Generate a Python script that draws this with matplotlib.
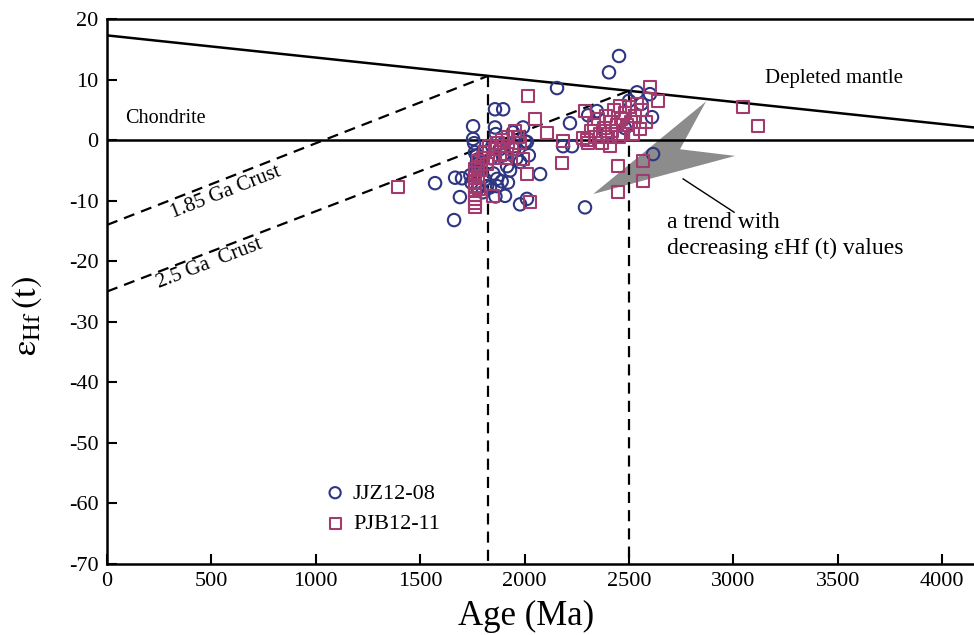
import numpy as np
import matplotlib
matplotlib.use("Agg")
import matplotlib.pyplot as plt
from matplotlib.patches import Polygon

plt.rcParams['font.family'] = ['Liberation Serif', 'DejaVu Serif']
plt.rcParams['mathtext.fontset'] = 'stix'
plt.rcParams['axes.unicode_minus'] = False

# JJZ12-08 (circles): age (Ma), eHf(t)
jjz_age = [1571, 1662, 1667, 1700, 1690, 1753, 1753, 1758, 1762, 1770, 1775, 1780, 1765, 1785,
           1772, 1790, 1800, 1820, 1834, 1810, 1858, 1897, 1858, 1862, 1868, 1868, 1880, 1895,
           1906, 1916, 1930, 1944, 1978, 1978, 1992, 2002, 2011, 2011, 2074, 2155, 2184, 2217,
           2227, 2289, 2304, 2346, 2404, 2452, 2538, 2600, 2610, 2615, 1840, 1845, 1850, 1890,
           1920, 1860, 1740, 1745, 1775, 1950, 1960, 2020, 2500, 2560, 2480, 2390]
jjz_ehf = [-7.1, -13.2, -6.2, -6.3, -9.4, 2.3, 0.2, -0.5, -2.0, -2.6, -3.2, -3.8, -4.5, -5.0,
           -3.5, -4.2, -8.6, -7.6, -7.8, -6.5, 5.1, 5.1, 2.1, 1.0, -6.4, -7.6, -1.5, -2.5,
           -9.2, -4.3, -5.0, 1.3, -3.6, -10.6, 2.1, -0.2, -0.3, -9.7, -5.6, 8.6, -1.0, 2.8,
           -1.0, -11.1, 4.1, 4.8, 11.2, 13.9, 7.9, 7.6, 3.8, -2.3, -3.0, -1.0, -5.5, -6.8,
           -7.0, -9.3, -5.8, -7.0, -8.0, -1.5, -3.0, -2.5, 6.5, 6.0, 2.0, 1.0]

# PJB12-11 (squares): age (Ma), eHf(t)
pjb_age = [1394, 1762, 1762, 1762, 1762, 1762, 1762, 1762, 1762, 1762, 1762, 1775, 1775, 1775,
           1780, 1790, 1800, 1810, 1820, 1830, 1849, 1850, 1860, 1870, 1880, 1890, 1900, 1910,
           1916, 1920, 1940, 1954, 1970, 1980, 1992, 2011, 2016, 2026, 2050, 2107, 2179, 2184,
           2280, 2289, 2299, 2304, 2320, 2330, 2340, 2350, 2360, 2370, 2380, 2390, 2400, 2409,
           2415, 2420, 2430, 2440, 2447, 2447, 2450, 2457, 2460, 2470, 2480, 2490, 2500, 2510,
           2520, 2530, 2540, 2553, 2560, 2567, 2567, 2580, 2600, 2639, 3046, 3118]
pjb_ehf = [-7.8, -4.8, -5.5, -6.2, -6.9, -7.6, -8.3, -9.0, -9.7, -10.4, -11.1, -3.5, -4.5, -6.0,
           -8.0, -5.0, -3.0, -2.0, -4.0, -1.0, -9.2, -3.0, -1.5, -0.5, -2.5, 0.0, -1.0, -3.0,
           -2.3, 0.5, -1.5, 1.5, 0.5, -0.5, -3.1, -5.6, 7.3, -10.2, 3.5, 1.2, -3.7, -0.2,
           0.3, 4.8, 0.0, -0.4, 1.5, 2.5, 0.5, 3.5, 1.0, -0.5, 2.0, 4.0, 0.5, -1.0,
           3.0, 1.5, 5.0, 2.5, -4.3, -8.6, 0.5, 5.6, 3.5, 1.0, 4.5, 2.5, 5.5, 3.0,
           1.0, 4.0, 6.0, 1.8, 5.0, -3.5, -6.8, 3.0, 8.7, 6.4, 5.4, 2.4]

# Reference lines
dm_x = [0, 4152]
dm_y = [17.3, 2.1]
crust185_x = [0, 1825]
crust185_y0 = -14.0
crust25_x = [0, 2500]
crust25_y0 = -25.0

# Trend arrow (lightning bolt) vertices in data units
arrow_age = [2328, 2869, 2744, 3008]
arrow_ehf = [-8.9, 6.4, -1.5, -2.6]

xticks = [0, 500, 1000, 1500, 2000, 2500, 3000, 3500, 4000]
yticks = [20, 10, 0, -10, -20, -30, -40, -50, -60, -70]


def dm(x):
    return dm_y[0] + (dm_y[1] - dm_y[0]) * (x - dm_x[0]) / (dm_x[1] - dm_x[0])


fig = plt.figure(figsize=(9.74, 6.35), dpi=100)
ax = fig.add_axes([0.1099, 0.1118, 0.8901, 0.8582])
ax.set_xlim(0, 4152)
ax.set_ylim(-70, 20)

blk = dict(color='black', lw=1.8)
ax.plot(dm_x, dm_y, **blk, zorder=2)
ax.axhline(0, **blk, zorder=2)

dash = (0, (5, 3.2))
c1_top = dm(crust185_x[1])
ax.plot(crust185_x, [crust185_y0, c1_top], color='black', lw=1.6, ls=dash, zorder=2)
ax.plot([crust185_x[1]] * 2, [c1_top, -70], color='black', lw=1.6, ls=dash, zorder=2)
c2_top = dm(crust25_x[1])
ax.plot(crust25_x, [crust25_y0, c2_top], color='black', lw=1.6, ls=dash, zorder=2)
ax.plot([crust25_x[1]] * 2, [c2_top, -70], color='black', lw=1.6, ls=dash, zorder=2)

poly = Polygon(list(zip(arrow_age, arrow_ehf)), closed=True, facecolor='#8c8c8c',
               edgecolor='none', zorder=1)
ax.add_patch(poly)
ax.plot([2759, 3003], [-6.4, -11.9], color='black', lw=1.0, zorder=2)

navy = '#2e3582'
mag = '#a33a6e'
ax.scatter(jjz_age, jjz_ehf, s=80, marker='o', facecolors='none', edgecolors=navy,
           linewidths=1.5, zorder=3, label='JJZ12-08')
ax.scatter(pjb_age, pjb_ehf, s=75, marker='s', facecolors='none', edgecolors=mag,
           linewidths=1.5, zorder=4, label='PJB12-11')

ax.text(85, 3.5, 'Chondrite', fontsize=14.5, va='center', ha='left')
ax.text(3482, 10.1, 'Depleted mantle', fontsize=15, va='center', ha='center')

s1 = (c1_top - crust185_y0) / crust185_x[1]
ang1 = np.degrees(np.arctan2(s1, 1.0))
ax.text(570, -8.6, '1.85 Ga Crust', fontsize=15, ha='center', va='center',
        rotation=ang1, transform_rotates_text=True, rotation_mode='anchor')
s2 = (c2_top - crust25_y0) / crust25_x[1]
ang2 = np.degrees(np.arctan2(s2, 1.0))
ax.text(493, -20.4, '2.5 Ga  Crust', fontsize=15, ha='center', va='center',
        rotation=ang2, transform_rotates_text=True, rotation_mode='anchor')

ax.text(2680, -15.8, 'a trend with\ndecreasing εHf (t) values', fontsize=17,
        ha='left', va='center', linespacing=1.3)

ax.set_xticks(xticks)
ax.set_yticks(yticks)
ax.tick_params(direction='in', length=7, width=1.5, labelsize=16, pad=6,
               top=False, right=False)
for sp in ['left', 'bottom', 'top']:
    ax.spines[sp].set_linewidth(1.8)
ax.spines['right'].set_visible(False)

ax.set_xlabel('Age (Ma)', fontsize=25)
ax.xaxis.set_label_coords(0.483, -0.066)
ax.set_ylabel('$\\mathrm{ε}_{\\mathrm{Hf}}\\,\\mathrm{(t)}$', fontsize=25)
ax.yaxis.set_label_coords(-0.073, 0.455)

leg = ax.legend(loc='upper left', bbox_to_anchor=(0.24, 0.165), frameon=False,
                fontsize=16, handletextpad=0.3, borderaxespad=0, labelspacing=0.45,
                handlelength=1.0)
for h in leg.legend_handles:
    h.set_sizes([65])

fig.savefig('out.png', dpi=100)
